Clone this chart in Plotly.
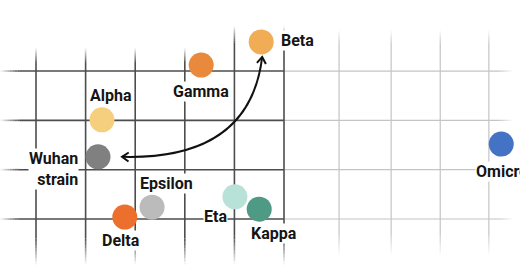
import plotly.graph_objects as go

# ---- data (antigenic map units; 1 unit = one grid square) ----
variants = ["Beta", "Gamma", "Alpha", "Wuhan strain", "Delta", "Epsilon", "Eta", "Kappa", "Omicron"]
x_vals = [4.54, 3.33, 1.33, 1.25, 1.79, 2.34, 4.01, 4.50, 9.38]
y_vals = [3.59, 3.12, 2.01, 1.26, 0.04, 0.24, 0.45, 0.20, 1.52]
colors = ["#F0AD55", "#E9893B", "#F5CF7E", "#808080", "#EC6F2D",
          "#BBBBBB", "#B8E2D8", "#4E9A84", "#4472C4"]
label_text = ["Beta", "Gamma", "Alpha", "Wuhan<br>strain", "Delta", "Epsilon", "Eta", "Kappa", "Omicron"]

# grid positions
grid_x_dark = [0, 1, 2, 3, 4, 5]
grid_x_light = [6.11, 7.16, 8.15, 9.13]
grid_y = [0, 1, 2, 3]

# ---- styles ----
# label placement: (xanchor, xshift, yshift, align)
label_style = [
    ("left", 19, 1, "left"),
    ("center", 0, -26, "center"),
    ("center", 9, 24, "center"),
    ("right", -19, -12, "right"),
    ("center", -4, -23, "center"),
    ("center", 14, 24, "center"),
    ("center", -19, -20, "center"),
    ("center", 15, -24, "center"),
    ("left", -26, -27, "left"),
]

XR = [-0.726, 9.758]
YR = [-1.074, 4.44]
PX_X = 520 / (XR[1] - XR[0])
PX_Y = 272 / (YR[1] - YR[0])

DARK = "#4d4d4d"
LIGHT = "#c4c4c4"

shapes = []


def faded_line(x0, y0, x1, y1, color, width, fade0=0.0, fade1=0.0, n=8):
    """Draw a line from (x0,y0) to (x1,y1) with opacity fades (fractions of length)."""
    def add(a, b, op):
        shapes.append(dict(type="line", layer="below",
                           x0=x0 + (x1 - x0) * a, y0=y0 + (y1 - y0) * a,
                           x1=x0 + (x1 - x0) * b, y1=y0 + (y1 - y0) * b,
                           line=dict(color=color, width=width), opacity=op))
    if fade0 > 0:
        for i in range(n):
            add(fade0 * i / n, fade0 * (i + 1) / n, (i + 0.5) / n)
    add(fade0, 1 - fade1, 1.0)
    if fade1 > 0:
        for i in range(n):
            add(1 - fade1 + fade1 * i / n, 1 - fade1 + fade1 * (i + 1) / n, 1 - (i + 0.5) / n)


# horizontal lines: dark left part, light right part
for gy in grid_y:
    faded_line(XR[0], gy, 5, gy, DARK, 1.6, fade0=0.07)
    faded_line(5, gy, 9.62, gy, LIGHT, 1.2, fade1=0.06)

# vertical dark lines
for gx in grid_x_dark:
    top = 3.91 if gx >= 4 else 3.47
    faded_line(gx, top, gx, -0.92, DARK, 1.6, fade0=0.07, fade1=0.12)
# vertical light lines
for gx in grid_x_light:
    faded_line(gx, 3.83, gx, -0.74, LIGHT, 1.2, fade0=0.06, fade1=0.1)

# ---- curved double arrow between Beta and Wuhan strain ----
bi, wi = variants.index("Beta"), variants.index("Wuhan strain")
gap_b = 15 / PX_Y
gap_w = 24 / PX_X
p0 = (x_vals[bi] + 1 / PX_X, y_vals[bi] - gap_b)
p2 = (x_vals[wi] + gap_w, y_vals[wi])
p1 = (x_vals[bi] - 0.23, y_vals[wi] - 0.07)
shapes.append(dict(type="path", layer="below",
                   path=f"M {p0[0]},{p0[1]} Q {p1[0]},{p1[1]} {p2[0]},{p2[1]}",
                   line=dict(color="#111111", width=2)))


def chevron(tip, frm, size=8, spread=0.6):
    # direction from 'frm' to 'tip' in pixel space
    dx = (tip[0] - frm[0]) * PX_X
    dy = (tip[1] - frm[1]) * PX_Y
    L = (dx * dx + dy * dy) ** 0.5
    ux, uy = dx / L, dy / L
    import math
    pts = []
    for s in (-1, 1):
        c, sn = math.cos(s * spread), math.sin(s * spread)
        rx = -(ux * c - uy * sn) * size
        ry = -(ux * sn + uy * c) * size
        pts.append((tip[0] + rx / PX_X, tip[1] + ry / PX_Y))
    shapes.append(dict(type="path", layer="below",
                       path=f"M {pts[0][0]},{pts[0][1]} L {tip[0]},{tip[1]} L {pts[1][0]},{pts[1][1]}",
                       line=dict(color="#111111", width=2)))


chevron(p0, p1)
chevron(p2, p1)

fig = go.Figure()
fig.add_trace(go.Scatter(
    x=x_vals, y=y_vals, mode="markers",
    marker=dict(size=25, color=colors, line=dict(width=0)),
    hoverinfo="text", text=variants, showlegend=False,
))

annotations = []
for xv, yv, t, (xa, xs, ys, al) in zip(x_vals, y_vals, label_text, label_style):
    annotations.append(dict(
        x=xv, y=yv, xref="x", yref="y", text=t, showarrow=False,
        xanchor=xa, yanchor="middle", xshift=xs, yshift=ys, align=al,
        font=dict(family="Roboto", size=16, color="#151515", weight="bold"),
        bgcolor="white", borderpad=0,
    ))

fig.update_layout(
    width=520, height=272,
    margin=dict(l=0, r=0, t=0, b=0),
    paper_bgcolor="white", plot_bgcolor="white",
    xaxis=dict(range=XR, visible=False, fixedrange=True),
    yaxis=dict(range=YR, visible=False, fixedrange=True),
    shapes=shapes, annotations=annotations,
)

fig.write_html("out.html")
